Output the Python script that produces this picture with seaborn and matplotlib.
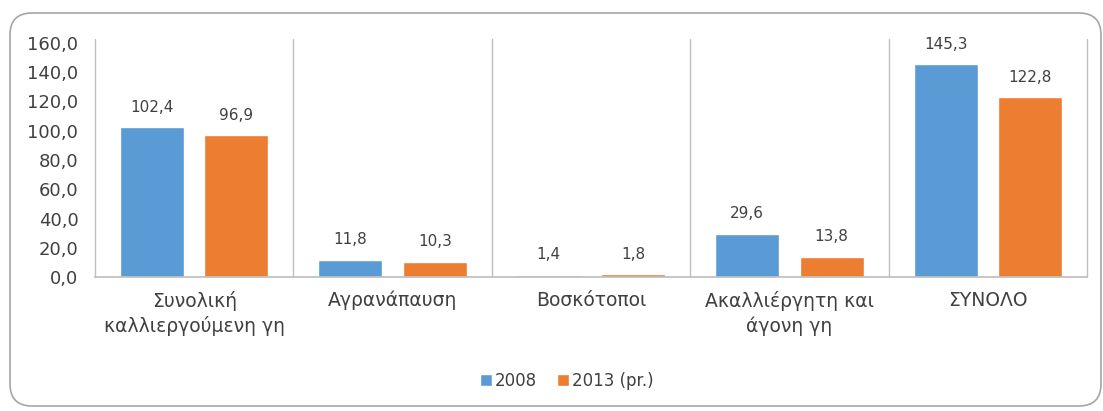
import pandas as pd
import numpy as np

import matplotlib.pyplot as plt
import seaborn as sns
from matplotlib.patches import FancyBboxPatch

# ==========================================
# DATA
# ==========================================

categories = [
    "Συνολική\nκαλλιεργούμενη γη",
    "Αγρανάπαυση",
    "Βοσκότοποι",
    "Ακαλλιέργητη και\nάγονη γη",
    "ΣΥΝΟΛΟ",
]
series_names = ["2008", "2013 (pr.)"]
values_2008 = [102.4, 11.8, 1.4, 29.6, 145.3]
values_2013 = [96.9, 10.3, 1.8, 13.8, 122.8]
y_ticks = [0, 20, 40, 60, 80, 100, 120, 140, 160]

colors = ["#5B9BD5", "#ED7D31"]
text_color = "#404040"

df = pd.DataFrame({
    "category": categories * 2,
    "series": [series_names[0]] * 5 + [series_names[1]] * 5,
    "value": values_2008 + values_2013,
})

# ==========================================
# PLOT
# ==========================================

sns.set_theme(style="white")
plt.rcParams["font.family"] = ["DejaVu Sans"]

fig = plt.figure(figsize=(11.03, 4.11), dpi=100)

# rounded frame around the chart (inch coordinates)
frame = FancyBboxPatch(
    (0.10, 0.05), 10.91, 3.93,
    boxstyle="round,pad=0,rounding_size=0.22",
    transform=fig.dpi_scale_trans,
    facecolor="white",
    edgecolor="#A6A6A6",
    linewidth=1.2,
    zorder=-10,
)
fig.add_artist(frame)

ax = fig.add_axes([95 / 1103, 1 - 277 / 411, 992 / 1103, 234 / 411])
ax.set_facecolor("none")
ax.set_zorder(5)

sns.barplot(
    data=df,
    x="category",
    y="value",
    hue="series",
    palette=colors,
    width=0.85,
    gap=0.24,
    saturation=1,
    ax=ax,
    legend=True,
)

for container, vals in zip(ax.containers, [values_2008, values_2013]):
    ax.bar_label(
        container,
        labels=[f"{v:.1f}".replace(".", ",") for v in vals],
        padding=9,
        fontsize=11,
        color=text_color,
    )

# separators between categories
for xb in np.arange(-0.5, len(categories), 1.0):
    ax.axvline(xb, ymax=1.015, color="#BFBFBF", linewidth=1, zorder=0,
               clip_on=False)

ax.set_xlim(-0.5, len(categories) - 0.5)
ax.set_ylim(0, 160)
ax.set_yticks(y_ticks)
ax.set_yticklabels([f"{t:.1f}".replace(".", ",") for t in y_ticks])

ax.set_xlabel("")
ax.set_ylabel("")

for side in ["top", "right", "left"]:
    ax.spines[side].set_visible(False)
ax.spines["bottom"].set_color("#BFBFBF")

ax.tick_params(axis="y", labelsize=13, colors=text_color, length=0, pad=12)
ax.tick_params(axis="x", labelsize=13.5, colors=text_color, length=0, pad=10)
for lbl in ax.get_xticklabels():
    lbl.set_linespacing(1.35)

ax.legend(
    loc="center",
    bbox_to_anchor=(567 / 1103, 1 - 381 / 411),
    bbox_transform=fig.transFigure,
    ncol=2,
    frameon=False,
    handlelength=0.7,
    handleheight=0.7,
    handletextpad=0.2,
    columnspacing=1.2,
    fontsize=12,
    labelcolor=text_color,
)

plt.savefig("out.png", dpi=100)
